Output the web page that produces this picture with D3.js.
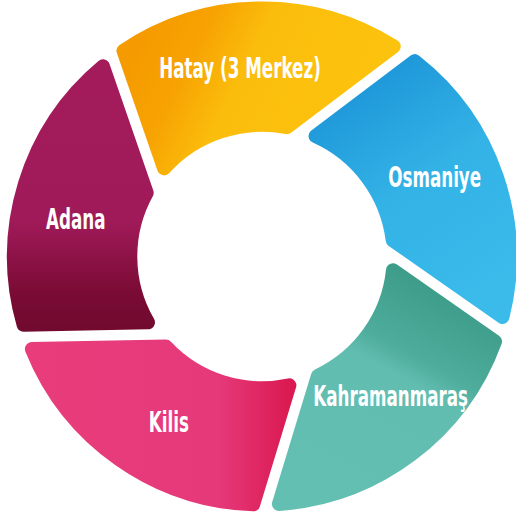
<!DOCTYPE html>
<html>
<head>
<meta charset="utf-8">
<script src="https://cdn.jsdelivr.net/npm/d3@7"></script>
<style>
  html, body { margin: 0; padding: 0; background: #fff; }
  svg { display: block; }
  .label {
    font-family: 'Liberation Sans Narrow', 'DejaVu Sans Condensed', sans-serif;
    font-weight: bold;
    fill: #fff;
  }
</style>
</head>
<body>
<div id="chart"><svg></svg></div>
<script>
// Provinces, clockwise starting from the top segment
const regions = ['Hatay (3 Merkez)', 'Osmaniye', 'Kahramanmaraş', 'Kilis', 'Adana'];
const shares = [1, 1, 1, 1, 1];

// gradient per segment: [x1, y1, x2, y2] in bounding-box units, then stops
const gradientDirs = [
  [0, 0.35, 1, 0.65],
  [0.2, 0, 0.7, 1],
  [0.2, 1, 0.7, 0],
  [0, 0, 1, 0],
  [0, 0, 0, 1]
];
const gradientStops = [
  [[0, '#f59a00'], [0.22, '#f7a302'], [0.42, '#fbbd0c'], [1, '#fcc40e']],
  [[0, '#1a92d6'], [0.5, '#33b2e6'], [1, '#3abbea']],
  [[0, '#64bfb3'], [0.58, '#62bdb1'], [0.68, '#4dac9b'], [1, '#3a9a86']],
  [[0, '#e83c7b'], [0.72, '#e6397a'], [1, '#da1a52']],
  [[0, '#a31b5b'], [0.6, '#a01a59'], [0.88, '#7a0b34'], [1, '#720a2f']]
];

const width = 516, height = 515;
const cx = 262, cy = 256.5;
const outerR = 255, innerR = 124.7;
const skew = 20.2 * Math.PI / 180;   // inner end of each cut lags the outer end
const gap = 10.5;                     // width of the white cuts
const corner = 7;                     // rounded corner radius
const labelR = 190;
const fontSize = 28;
const squeeze = 0.665;                // condensed lettering

const svg = d3.select('#chart svg')
  .attr('width', width)
  .attr('height', height);

const defs = svg.append('defs');
const g = svg.append('g')
  .attr('transform', `translate(${cx},${cy})`);

const pie = d3.pie()
  .sort(null)
  .value(d => d)
  .startAngle(-36.4 * Math.PI / 180)
  .endAngle(-36.4 * Math.PI / 180 + 2 * Math.PI);

const arcs = pie(shares);

// angle measured clockwise from 12 o'clock, like d3.arc
const polar = (rad, a) => ({ x: rad * Math.sin(a), y: -rad * Math.cos(a) });

// a cut between two segments: straight line from inner to outer ring
function cutLine(a) {
  const p = polar(innerR, a - skew);
  const q = polar(outerR, a);
  const len = Math.hypot(q.x - p.x, q.y - p.y);
  return { p, u: { x: (q.x - p.x) / len, y: (q.y - p.y) / len } };
}

function shift(line, dist) {
  // clockwise perpendicular of the outward direction
  const n = { x: -line.u.y, y: line.u.x };
  return { p: { x: line.p.x + n.x * dist, y: line.p.y + n.y * dist }, u: line.u };
}

function hitCircle(line, rad) {
  const b = line.p.x * line.u.x + line.p.y * line.u.y;
  const c = line.p.x * line.p.x + line.p.y * line.p.y - rad * rad;
  const t = -b + Math.sqrt(b * b - c);
  return { x: line.p.x + t * line.u.x, y: line.p.y + t * line.u.y };
}

// inset shape; the stroke of width 2*corner grows it back with round corners
function segmentPath(d) {
  const off = gap / 2 + corner;
  const s = shift(cutLine(d.startAngle), off);
  const e = shift(cutLine(d.endAngle), -off);
  const rIn = innerR + corner, rOut = outerR - corner;
  const sIn = hitCircle(s, rIn), sOut = hitCircle(s, rOut);
  const eOut = hitCircle(e, rOut), eIn = hitCircle(e, rIn);
  const path = d3.path();
  path.moveTo(sIn.x, sIn.y);
  path.lineTo(sOut.x, sOut.y);
  path.arc(0, 0, rOut, Math.atan2(sOut.y, sOut.x), Math.atan2(eOut.y, eOut.x), false);
  path.lineTo(eIn.x, eIn.y);
  path.arc(0, 0, rIn, Math.atan2(eIn.y, eIn.x), Math.atan2(sIn.y, sIn.x), true);
  path.closePath();
  return path.toString();
}

function labelPos(d) {
  const a = hitCircle(cutLine(d.startAngle), labelR);
  const b = hitCircle(cutLine(d.endAngle), labelR);
  const mx = (a.x + b.x) / 2, my = (a.y + b.y) / 2;
  const k = labelR / Math.hypot(mx, my);
  return [mx * k, my * k];
}

arcs.forEach((d, i) => {
  const dir = gradientDirs[i];
  const grad = defs.append('linearGradient')
    .attr('id', `grad-${i}`)
    .attr('x1', dir[0]).attr('y1', dir[1])
    .attr('x2', dir[2]).attr('y2', dir[3]);
  grad.selectAll('stop')
    .data(gradientStops[i])
    .join('stop')
    .attr('offset', s => s[0])
    .attr('stop-color', s => s[1]);
});

g.selectAll('.segment')
  .data(arcs)
  .join('path')
  .attr('class', 'segment')
  .attr('d', segmentPath)
  .attr('fill', (d, i) => `url(#grad-${i})`)
  .attr('stroke', (d, i) => `url(#grad-${i})`)
  .attr('stroke-width', corner * 2)
  .attr('stroke-linejoin', 'round');

g.selectAll('.label')
  .data(arcs)
  .join('text')
  .attr('class', 'label')
  .attr('transform', d => `translate(${labelPos(d)}) scale(${squeeze},1)`)
  .attr('text-anchor', 'middle')
  .attr('dy', '0.36em')
  .style('font-size', fontSize + 'px')
  .text((d, i) => regions[i]);
</script>
</body>
</html>
